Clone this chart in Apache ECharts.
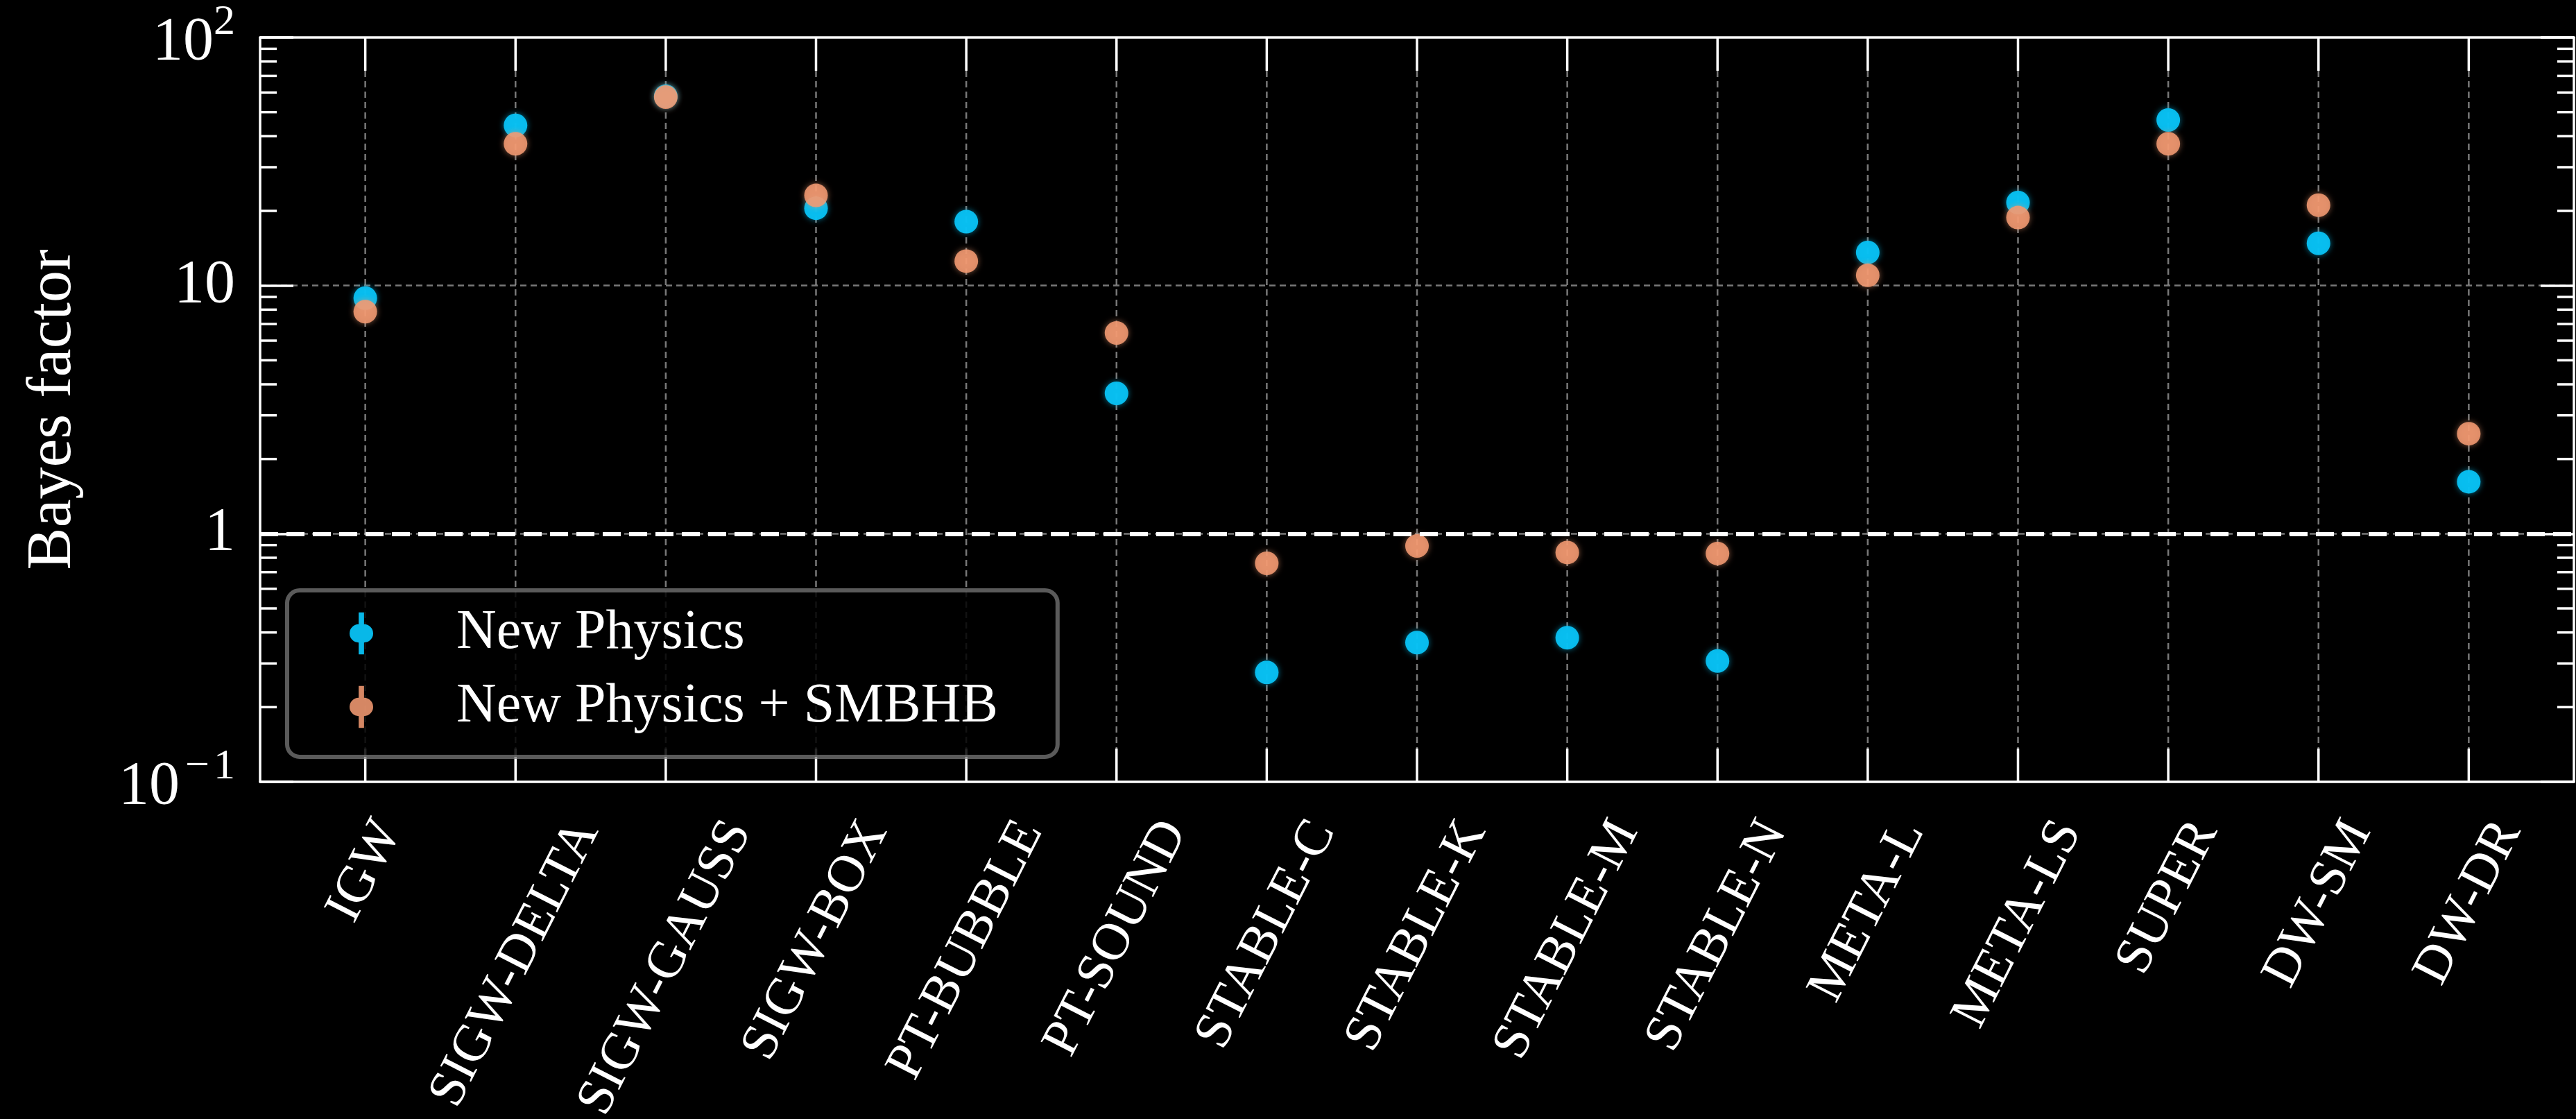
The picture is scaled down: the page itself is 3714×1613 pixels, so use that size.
<!DOCTYPE html>
<html>
<head>
<meta charset="utf-8">
<script src="https://cdn.jsdelivr.net/npm/echarts@6/dist/echarts.min.js"></script>
<style>
html,body{margin:0;padding:0;background:#000;}
#chart{width:3714px;height:1613px;}
</style>
</head>
<body>
<div id="chart"></div>
<script>
// ---------------- data ----------------
const categories = ['IGW','SIGW-DELTA','SIGW-GAUSS','SIGW-BOX','PT-BUBBLE','PT-SOUND','STABLE-C','STABLE-K','STABLE-M','STABLE-N','META-L','META-LS','SUPER','DW-SM','DW-DR'];
const newPhysics      = [8.9, 44.2, 58.0, 20.5, 18.1, 3.68, 0.276, 0.364, 0.381, 0.307, 13.6, 21.6, 46.5, 14.8, 1.62];
const newPhysicsSMBHB = [7.85, 37.3, 57.5, 23.1, 12.55, 6.44, 0.760, 0.892, 0.840, 0.832, 11.0, 18.8, 37.3, 21.1, 2.53];
const seriesNames = ['New Physics', 'New Physics + SMBHB'];
const yMinorTicks = [0.2,0.3,0.4,0.5,0.6,0.7,0.8,0.9,2,3,4,5,6,7,8,9,20,30,40,50,60,70,80,90];
const yTickLabels = {'-1':'{b|10}{m|−}{s|1}', '0':'1', '1':'10', '2':'{b|10}{s|2}'};

// ---------------- style constants ----------------
const FONT = '"Liberation Serif", "DejaVu Serif", serif';
const BLUE = '#08c2f4';
const ORANGE = '#f39a72';
const Y_MIN = 0.1, Y_MAX = 100;
const X_MIN = -0.7, X_MAX = categories.length - 1 + 0.7;
const MAJOR_TICK = 48, MINOR_TICK = 24, SPINE_W = 3.5;
const X_FONT = 76, LABEL_ROT = 63, LABEL_PAD = 44;

const measureCtx = document.createElement('canvas').getContext('2d');
measureCtx.font = X_FONT + 'px ' + FONT;

const chart = echarts.init(document.getElementById('chart'), null, {renderer: 'canvas'});

const valueAxisBase = {
  type: 'value', min: X_MIN, max: X_MAX,
  axisLine: {show: true, onZero: false, lineStyle: {color: '#fff', width: SPINE_W}},
  axisTick: {show: false}, axisLabel: {show: false}, splitLine: {show: false}
};
const logAxisBase = {
  type: 'log', logBase: 10, min: Y_MIN, max: Y_MAX,
  axisLine: {show: true, onZero: false, lineStyle: {color: '#fff', width: SPINE_W}},
  axisTick: {show: true, inside: true, length: MAJOR_TICK, lineStyle: {color: '#fff', width: SPINE_W}},
  minorTick: {show: false}
};

const option = {
  backgroundColor: '#000',
  animation: false,
  grid: {left: 375, right: 3, top: 54, bottom: 486, containLabel: false},
  xAxis: [
    Object.assign({}, valueAxisBase, {position: 'bottom'}),
    Object.assign({}, valueAxisBase, {position: 'top'})
  ],
  yAxis: [
    Object.assign({}, logAxisBase, {
      position: 'left',
      name: 'Bayes factor', nameLocation: 'middle', nameGap: 252,
      nameTextStyle: {color: '#fff', fontSize: 92, fontFamily: FONT},
      axisLabel: {
        show: true, color: '#fff', fontSize: 88, fontFamily: FONT, margin: 36,
        formatter: v => yTickLabels[String(Math.round(Math.log10(v)))],
        rich: {
          b: {color: '#fff', fontSize: 88, fontFamily: FONT, lineHeight: 104, verticalAlign: 'bottom'},
          m: {color: '#fff', fontSize: 62, fontFamily: FONT, lineHeight: 104, verticalAlign: 'top', padding: [0, 6, 0, 8]},
          s: {color: '#fff', fontSize: 62, fontFamily: FONT, lineHeight: 104, verticalAlign: 'top'}
        }
      },
      splitLine: {show: true, showMinLine: false, showMaxLine: false,
        lineStyle: {color: 'rgba(150,150,150,0.8)', width: 2.5, type: [9, 6]}}
    }),
    Object.assign({}, logAxisBase, {
      position: 'right',
      axisLabel: {show: false}, splitLine: {show: false}
    })
  ],
  legend: {
    show: true, orient: 'vertical', left: 414, top: 851, z: 10,
    data: seriesNames.map(n => ({
      name: n,
      icon: 'path://M-5,-39 L5,-39 L5,-17 A17,17 0 0,1 5,17 L5,39 L-5,39 L-5,17 A17,17 0 0,1 -5,-17 Z'
    })),
    itemWidth: 34, itemHeight: 78, itemGap: 26,
    padding: [22, 86, 32, 90],
    backgroundColor: 'rgba(0,0,0,0.85)',
    borderColor: 'rgba(120,120,120,0.75)', borderWidth: 6, borderRadius: 18,
    formatter: n => '{t|' + n + '}',
    textStyle: {
      color: '#fff', fontSize: 80, fontFamily: FONT,
      rich: {t: {color: '#fff', fontSize: 80, fontFamily: FONT, padding: [0, 0, 0, 115]}}
    },
    selectedMode: false
  },
  series: [
    {
      // category grid lines, x ticks (top & bottom) and rotated category labels
      type: 'custom', name: 'categoryAxis', clip: false, silent: true, z: 1,
      xAxisIndex: 0, yAxisIndex: 0,
      data: categories.map((c, i) => [i, Y_MIN]),
      renderItem: (params, api) => {
        const i = api.value(0);
        const top = api.coord([i, Y_MAX]);
        const bot = api.coord([i, Y_MIN]);
        const x = top[0];
        const name = categories[params.dataIndex];
        const L = measureCtx.measureText(name).width;
        const th = LABEL_ROT * Math.PI / 180;
        const h = X_FONT;
        const bh = L * Math.sin(th) + h * Math.cos(th);
        const cy = bot[1] + LABEL_PAD + bh / 2;
        return {
          type: 'group',
          children: [
            {type: 'line', shape: {x1: x, y1: top[1] + MAJOR_TICK, x2: x, y2: bot[1] - MAJOR_TICK},
             style: {stroke: 'rgba(150,150,150,0.8)', lineWidth: 2.5, lineDash: [9, 6]}},
            {type: 'line', shape: {x1: x, y1: top[1], x2: x, y2: top[1] + MAJOR_TICK},
             style: {stroke: '#fff', lineWidth: SPINE_W}},
            {type: 'line', shape: {x1: x, y1: bot[1], x2: x, y2: bot[1] - MAJOR_TICK},
             style: {stroke: '#fff', lineWidth: SPINE_W}},
            {type: 'text', x: x, y: cy, rotation: th,
             style: {text: name, fill: '#fff', fontSize: X_FONT, fontFamily: FONT,
                     align: 'center', verticalAlign: 'middle'}}
          ]
        };
      }
    },
    {
      // minor y ticks on both spines
      type: 'custom', name: 'minorTicks', clip: false, silent: true, z: 1,
      xAxisIndex: 0, yAxisIndex: 0,
      data: yMinorTicks.map(v => [X_MIN, v]),
      renderItem: (params, api) => {
        const v = api.value(1);
        const l = api.coord([X_MIN, v]);
        const r = api.coord([X_MAX, v]);
        return {
          type: 'group',
          children: [
            {type: 'line', shape: {x1: l[0], y1: l[1], x2: l[0] + MINOR_TICK, y2: l[1]},
             style: {stroke: '#fff', lineWidth: SPINE_W}},
            {type: 'line', shape: {x1: r[0], y1: r[1], x2: r[0] - MINOR_TICK, y2: r[1]},
             style: {stroke: '#fff', lineWidth: SPINE_W}}
          ]
        };
      }
    },
    {
      type: 'scatter', name: seriesNames[0], z: 3,
      symbol: 'circle', symbolSize: 34,
      itemStyle: {color: BLUE, opacity: 0.95, shadowBlur: 8, shadowColor: 'rgba(8,194,244,0.6)'},
      data: newPhysics.map((v, i) => [i, v]),
      markLine: {
        silent: true, symbol: 'none', label: {show: false},
        lineStyle: {color: '#fff', width: 6, type: [26, 12], opacity: 1},
        data: [{yAxis: 1}]
      }
    },
    {
      type: 'scatter', name: seriesNames[1], z: 4,
      symbol: 'circle', symbolSize: 34,
      itemStyle: {color: ORANGE, opacity: 0.88, shadowBlur: 8, shadowColor: 'rgba(243,154,114,0.6)'},
      data: newPhysicsSMBHB.map((v, i) => [i, v])
    }
  ]
};
chart.setOption(option);
</script>
</body>
</html>
